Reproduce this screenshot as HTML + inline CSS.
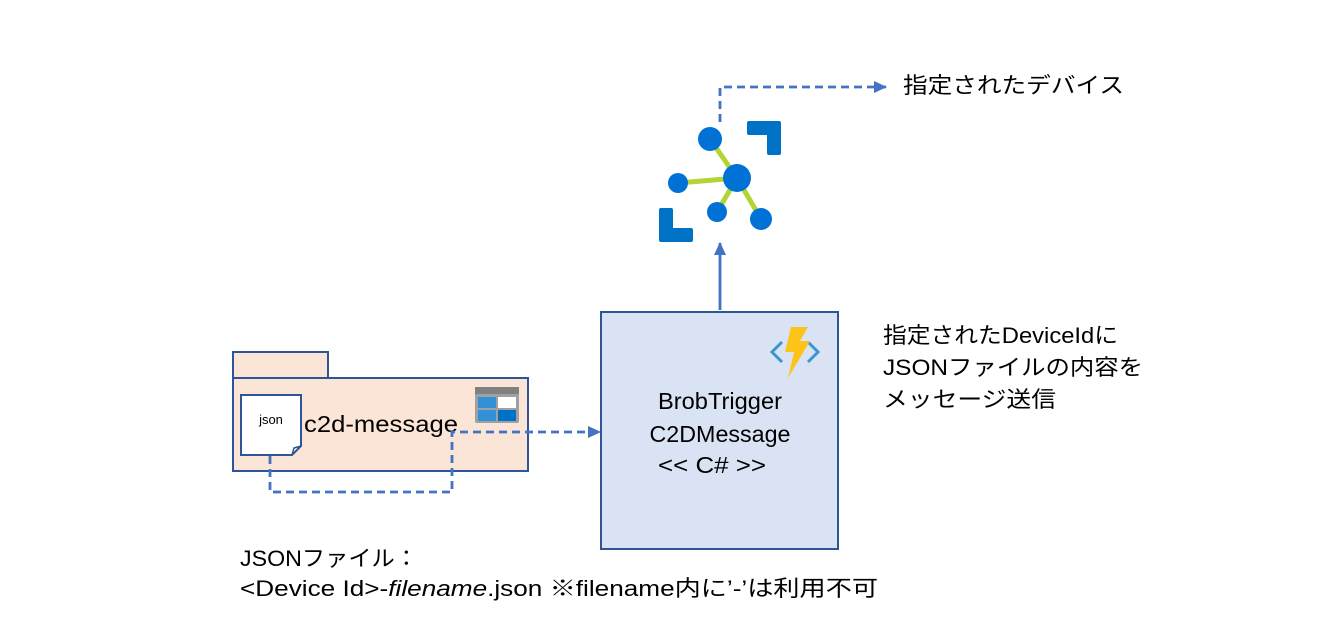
<!DOCTYPE html>
<html><head><meta charset="utf-8"><style>
html,body{margin:0;padding:0;background:#fff;}
svg{display:block;}
text{font-family:"Liberation Sans","Noto Sans CJK JP",sans-serif;fill:#000;}
</style></head><body>
<svg width="1318" height="633" viewBox="0 0 1318 633" xmlns="http://www.w3.org/2000/svg">
<defs>
<marker id="ah" markerWidth="13" markerHeight="12" refX="12" refY="6" orient="auto" markerUnits="userSpaceOnUse">
<path d="M0,0 L13,6 L0,12 z" fill="#4472c4"/></marker>
</defs>
<!-- IoT hub icon -->
<path d="M749,121 h30 a2,2 0 0 1 2,2 v30 a2,2 0 0 1 -2,2 h-10 a2,2 0 0 1 -2,-2 v-18 h-18 a2,2 0 0 1 -2,-2 v-10 a2,2 0 0 1 2,-2z" fill="#0072c6"/>
<path d="M661,208 h10 a2,2 0 0 1 2,2 v18 h18 a2,2 0 0 1 2,2 v10 a2,2 0 0 1 -2,2 h-30 a2,2 0 0 1 -2,-2 v-30 a2,2 0 0 1 2,-2z" fill="#0072c6"/>
<g stroke="#b4d334" stroke-width="5">
<line x1="710" y1="139" x2="737" y2="178"/><line x1="678" y1="183" x2="737" y2="178"/>
<line x1="717" y1="212" x2="737" y2="178"/><line x1="761" y1="219" x2="737" y2="178"/></g>
<g fill="#0072d6"><circle cx="710" cy="139" r="12"/><circle cx="737" cy="178" r="14"/>
<circle cx="678" cy="183" r="10"/><circle cx="717" cy="212" r="10"/><circle cx="761" cy="219" r="11"/></g>
<!-- connectors -->
<path d="M720,122 V87 H886" fill="none" stroke="#4472c4" stroke-width="2.8" stroke-dasharray="8,5" marker-end="url(#ah)"/>
<path d="M720,310 V243" fill="none" stroke="#4472c4" stroke-width="2.8" marker-end="url(#ah)"/>
<!-- package -->
<rect x="233" y="352" width="95" height="26" fill="#fbe5d6" stroke="#2f5597" stroke-width="2"/>
<rect x="233" y="378" width="295" height="93" fill="#fbe5d6" stroke="#2f5597" stroke-width="2"/>
<g>
<rect x="475" y="387" width="44" height="36" rx="2" fill="#a0a0a0"/>
<rect x="475" y="387" width="44" height="7" fill="#808080"/>
<rect x="478" y="397" width="18" height="11" fill="#3090d8"/><rect x="498" y="397" width="18" height="11" fill="#fff"/>
<rect x="478" y="410" width="18" height="11" fill="#3090d8"/><rect x="498" y="410" width="18" height="11" fill="#0072c6"/>
</g>
<path d="M241,395 H301 V446 L292,455 H241 Z" fill="#fff" stroke="#2f5597" stroke-width="2"/>
<path d="M292,455 L294,448 L301,446" fill="none" stroke="#2f5597" stroke-width="1.5"/>
<text x="271" y="424" font-size="13" text-anchor="middle">json</text>
<text x="304" y="432" font-size="23" textLength="154" lengthAdjust="spacingAndGlyphs">c2d-message</text>
<path d="M270,456 V492 H452 V432 H600" fill="none" stroke="#4472c4" stroke-width="2.8" stroke-dasharray="8,5" marker-end="url(#ah)"/>
<!-- function box -->
<rect x="601" y="312" width="237" height="237" fill="#dae3f3" stroke="#2f5597" stroke-width="2"/>
<path d="M782,342 l-10,10 l10,10" fill="none" stroke="#3a96d0" stroke-width="3"/>
<path d="M808,342 l10,10 l-10,10" fill="none" stroke="#3a96d0" stroke-width="3"/>
<path d="M791,327 h17 l-8,14 h10 l-22,37 l6,-26 h-9 z" fill="#fcc419"/>
<text x="720" y="409" font-size="23" text-anchor="middle" textLength="124" lengthAdjust="spacingAndGlyphs">BrobTrigger</text>
<text x="720" y="442" font-size="23" text-anchor="middle" textLength="141" lengthAdjust="spacingAndGlyphs">C2DMessage</text>
<text x="712" y="473" font-size="23" text-anchor="middle" textLength="108" lengthAdjust="spacingAndGlyphs">&lt;&lt; C# &gt;&gt;</text>
<!-- labels -->
<text x="903" y="93" font-size="22" textLength="221" lengthAdjust="spacingAndGlyphs">指定されたデバイス</text>
<text x="883" y="343" font-size="22" textLength="235" lengthAdjust="spacingAndGlyphs">指定されたDeviceIdに</text>
<text x="883" y="375" font-size="22" textLength="260" lengthAdjust="spacingAndGlyphs">JSONファイルの内容を</text>
<text x="883" y="407" font-size="22" textLength="173" lengthAdjust="spacingAndGlyphs">メッセージ送信</text>
<text x="240" y="566" font-size="22" textLength="178" lengthAdjust="spacingAndGlyphs">JSONファイル：</text>
<text x="240" y="596" font-size="22" textLength="638" lengthAdjust="spacingAndGlyphs">&lt;Device Id&gt;-<tspan font-style="italic">filename</tspan>.json ※filename内に’-’は利用不可</text>
</svg>
</body></html>
